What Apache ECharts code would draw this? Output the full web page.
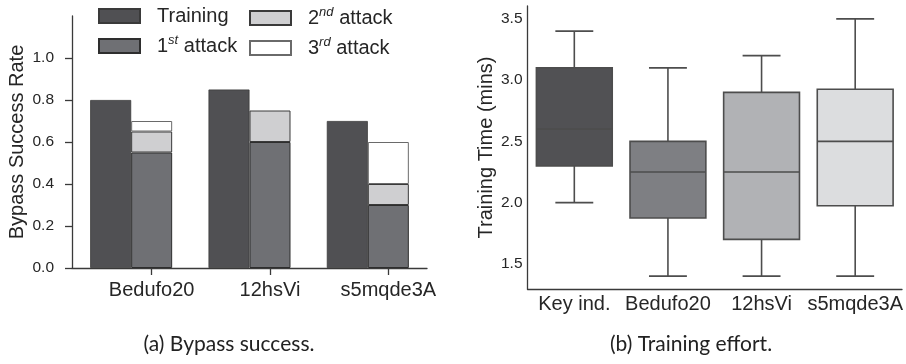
<!DOCTYPE html>
<html>
<head>
<meta charset="utf-8">
<script src="https://cdn.jsdelivr.net/npm/echarts@6/dist/echarts.min.js"></script>
<style>html,body{margin:0;padding:0;background:#fff}#c{width:906px;height:364px}</style>
</head>
<body>
<div id="c"></div>
<script>
// ---- data: (a) Bypass success ----
const barCategories = ['Bedufo20', '12hsVi', 's5mqde3A'];
const trainingRate = [0.80, 0.85, 0.70];
const attack1Rate = [0.55, 0.60, 0.30];
const attack2Rate = [0.10, 0.15, 0.10];
const attack3Rate = [0.05, 0, 0.20];
const rateTicks = [0, 0.2, 0.4, 0.6, 0.8, 1.0];

// ---- data: (b) Training effort ----
const boxCategories = ['Key ind.', 'Bedufo20', '12hsVi', 's5mqde3A'];
// [min, Q1, median, Q3, max]
const boxKeyInd = [2.0, 2.3, 2.6, 3.1, 3.4];
const boxBedufo20 = [1.4, 1.875, 2.25, 2.5, 3.1];
const box12hsVi = [1.4, 1.7, 2.25, 2.9, 3.2];
const boxS5mqde3A = [1.4, 1.975, 2.5, 2.925, 3.5];
const timeTicks = [1.5, 2.0, 2.5, 3.0, 3.5];

// ---- layout / style ----
const FONT = 'Liberation Sans';
const TXT = '#262626';
const AXC = '#3a3a3a';
const gridA = { left: 72, top: 16, width: 355, height: 252 };
const gridB = { left: 527.5, top: 6, width: 374.5, height: 283 };
const BAR_W = 41;
const bandA = gridA.width / barCategories.length;
const tickShift = (BAR_W / 2) / bandA;
const boxColors = ['#515154', '#7e7f83', '#b1b2b5', '#dcdddf'];
const boxEdge = '#4d4d4d';

const legendRich = {
  n: { fontSize: 20, fontFamily: FONT, color: TXT, lineHeight: 24 },
  p: { fontSize: 20, fontFamily: FONT, color: TXT, lineHeight: 24, padding: [0, 0, 0, 12] },
  s: { fontSize: 13, fontFamily: FONT, color: TXT, fontStyle: 'italic', lineHeight: 14, verticalAlign: 'top' }
};
function legendFmt(name) {
  const m = name.match(/^(\d)(st|nd|rd) (.*)$/);
  if (m) return '{p|' + m[1] + '}{s|' + m[2] + '}{n| ' + m[3] + '}';
  return '{p|' + name + '}';
}

const boxRows = [boxKeyInd, boxBedufo20, box12hsVi, boxS5mqde3A].map((b, i) => [i].concat(b));

const legendBase = { orient: 'vertical', top: 6, itemWidth: 41, itemHeight: 14, icon: 'rect',
  itemGap: 8, padding: 0, formatter: legendFmt, textStyle: { rich: legendRich }, selectedMode: false };

const chart = echarts.init(document.getElementById('c'), null, { renderer: 'canvas' });
chart.setOption({
  animation: false,
  textStyle: { fontFamily: FONT },
  legend: [
    Object.assign({ data: ['Training', '1st attack'], left: 98 }, legendBase),
    Object.assign({ data: ['2nd attack', '3rd attack'], left: 249 }, legendBase)
  ],
  grid: [
    Object.assign({}, gridA),
    Object.assign({}, gridB)
  ],
  xAxis: [
    { type: 'category', gridIndex: 0, data: barCategories, position: 'bottom',
      axisLine: { onZero: false, lineStyle: { color: AXC, width: 1.3 } }, axisTick: { show: false }, axisLabel: { show: false } },
    { type: 'value', gridIndex: 0, min: -0.5, max: barCategories.length - 0.5, position: 'bottom',
      axisLine: { show: false, onZero: false }, splitLine: { show: false },
      axisTick: { show: true, inside: false, length: 7, lineStyle: { color: AXC, width: 1.3 },
        customValues: barCategories.map((c, i) => i + tickShift) },
      axisLabel: { fontSize: 20, color: TXT, fontFamily: FONT, margin: 12,
        customValues: barCategories.map((c, i) => i + tickShift),
        formatter: v => barCategories[Math.round(v - tickShift)] } },
    { type: 'category', gridIndex: 1, data: boxCategories, position: 'bottom',
      axisLine: { onZero: false, lineStyle: { color: AXC, width: 1.3 } }, axisTick: { show: false },
      axisLabel: { fontSize: 20, color: TXT, fontFamily: FONT, margin: 5, interval: 0 } }
  ],
  yAxis: [
    { type: 'value', gridIndex: 0, min: 0, max: 1.2,
      name: 'Bypass Success Rate', nameLocation: 'middle', nameGap: 45,
      nameTextStyle: { fontSize: 20, color: TXT, fontFamily: FONT },
      axisLine: { show: true, onZero: false, lineStyle: { color: AXC, width: 1.3 } },
      axisTick: { show: true, length: 7, lineStyle: { color: AXC, width: 1.3 }, customValues: rateTicks },
      axisLabel: { fontSize: 15.5, color: TXT, fontFamily: FONT, margin: 18, customValues: rateTicks,
        formatter: v => v.toFixed(1) },
      splitLine: { show: false } },
    { type: 'value', gridIndex: 1, min: 1.295, max: 3.605,
      name: 'Training Time (mins)', nameLocation: 'middle', nameGap: 31,
      nameTextStyle: { fontSize: 20, color: TXT, fontFamily: FONT },
      axisLine: { show: true, onZero: false, lineStyle: { color: AXC, width: 1.3 } },
      axisTick: { show: false },
      axisLabel: { fontSize: 15.5, color: TXT, fontFamily: FONT, margin: 5, customValues: timeTicks,
        formatter: v => v.toFixed(1) },
      splitLine: { show: false } }
  ],
  series: [
    { name: 'Training', type: 'bar', xAxisIndex: 0, yAxisIndex: 0, data: trainingRate, barWidth: BAR_W, barGap: '0%',
      itemStyle: { color: '#505053', borderColor: '#3a3a3a', borderWidth: 0.8 } },
    { name: '1st attack', type: 'bar', xAxisIndex: 0, yAxisIndex: 0, stack: 'atk', data: attack1Rate, barWidth: BAR_W,
      itemStyle: { color: '#6f7074', borderColor: '#2e2e2e', borderWidth: 1 } },
    { name: '2nd attack', type: 'bar', xAxisIndex: 0, yAxisIndex: 0, stack: 'atk', data: attack2Rate, barWidth: BAR_W,
      itemStyle: { color: '#cfcfd1', borderColor: '#3a3a3a', borderWidth: 1 } },
    { name: '3rd attack', type: 'bar', xAxisIndex: 0, yAxisIndex: 0, stack: 'atk',
      data: attack3Rate.map(v => v === 0 ? '-' : v), barWidth: BAR_W,
      itemStyle: { color: '#ffffff', borderColor: '#6a6a6a', borderWidth: 1 } },
    { type: 'custom', xAxisIndex: 2, yAxisIndex: 1, data: boxRows,
      encode: { x: 0, y: [1, 2, 3, 4, 5] },
      renderItem: function (params, api) {
        const i = api.value(0);
        const band = api.size([1, 0])[0];
        const bw = band * 0.81, cw = bw / 2;
        const pMin = api.coord([i, api.value(1)]);
        const pQ1 = api.coord([i, api.value(2)]);
        const pMed = api.coord([i, api.value(3)]);
        const pQ3 = api.coord([i, api.value(4)]);
        const pMax = api.coord([i, api.value(5)]);
        const x = pQ1[0];
        const ls = { stroke: boxEdge, lineWidth: 1.6, fill: null };
        return { type: 'group', children: [
          { type: 'line', shape: { x1: x, y1: pMax[1], x2: x, y2: pQ3[1] }, style: ls },
          { type: 'line', shape: { x1: x, y1: pQ1[1], x2: x, y2: pMin[1] }, style: ls },
          { type: 'line', shape: { x1: x - cw / 2, y1: pMax[1], x2: x + cw / 2, y2: pMax[1] }, style: ls },
          { type: 'line', shape: { x1: x - cw / 2, y1: pMin[1], x2: x + cw / 2, y2: pMin[1] }, style: ls },
          { type: 'rect', shape: { x: x - bw / 2, y: pQ3[1], width: bw, height: pQ1[1] - pQ3[1] },
            style: { fill: boxColors[i], stroke: boxEdge, lineWidth: 1.6 } },
          { type: 'line', shape: { x1: x - bw / 2, y1: pMed[1], x2: x + bw / 2, y2: pMed[1] }, style: ls }
        ] };
      } }
  ],
  graphic: [
    { type: 'text', x: 229, y: 344, style: { text: '(a) Bypass success.', font: '21px Lato, "Open Sans", sans-serif',
      fill: '#222', textAlign: 'center', textVerticalAlign: 'middle' } },
    { type: 'text', x: 691, y: 344, style: { text: '(b) Training effort.', font: '21px Lato, "Open Sans", sans-serif',
      fill: '#222', textAlign: 'center', textVerticalAlign: 'middle' } }
  ]
});
</script>
</body>
</html>
